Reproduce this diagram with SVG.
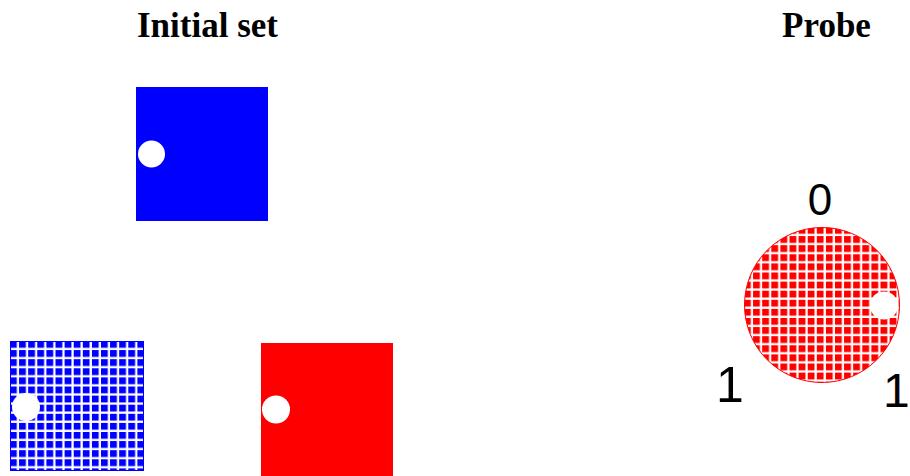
<svg xmlns="http://www.w3.org/2000/svg" width="910" height="476" viewBox="0 0 910 476">
  <style>
    .title { font-family: "Liberation Serif", "Times New Roman", serif; font-weight: bold; font-size: 35px; fill: #000; text-anchor: middle; }
    .num { font-family: "Liberation Sans", Arial, sans-serif; fill: #000; }
    .hole { fill: #fff; }
  </style>
  <defs>
    <pattern id="gridBlue" patternUnits="userSpaceOnUse" x="10" y="341" width="9.1" height="9.1">
      <rect width="9.1" height="9.1" fill="#fff"/>
      <rect width="6.8" height="6.8" fill="#0000ff"/>
    </pattern>
    <pattern id="gridRed" patternUnits="userSpaceOnUse" x="744" y="227" width="9.1" height="9.1">
      <rect width="9.1" height="9.1" fill="#fff"/>
      <rect width="6.8" height="6.8" fill="#ff0000"/>
    </pattern>
  </defs>
  <rect width="910" height="476" fill="#fff"/>

  <text class="title" x="207.5" y="37">Initial set</text>
  <text class="title" x="826.5" y="37">Probe</text>

  <g id="blue-solid">
    <rect x="136" y="87" width="132" height="134" fill="#0000ff"/>
    <circle class="hole" cx="151.5" cy="154" r="13.5"/>
  </g>

  <g id="blue-patterned">
    <rect x="10.5" y="341.5" width="133" height="129" fill="url(#gridBlue)" stroke="#0000ff" stroke-width="1"/>
    <circle class="hole" cx="26" cy="407" r="14"/>
  </g>

  <g id="red-solid">
    <rect x="261" y="343" width="132" height="140" fill="#ff0000"/>
    <circle class="hole" cx="276" cy="409.5" r="14"/>
  </g>

  <g id="probe">
    <circle cx="822" cy="305" r="77.5" fill="url(#gridRed)" stroke="#ff0000" stroke-width="1"/>
    <circle class="hole" cx="884" cy="305.5" r="14"/>
    <text class="num" x="820" y="215" font-size="44" text-anchor="middle">0</text>
    <text class="num" x="716" y="402" font-size="50">1</text>
    <text class="num" x="883" y="407" font-size="48">1</text>
  </g>
</svg>
